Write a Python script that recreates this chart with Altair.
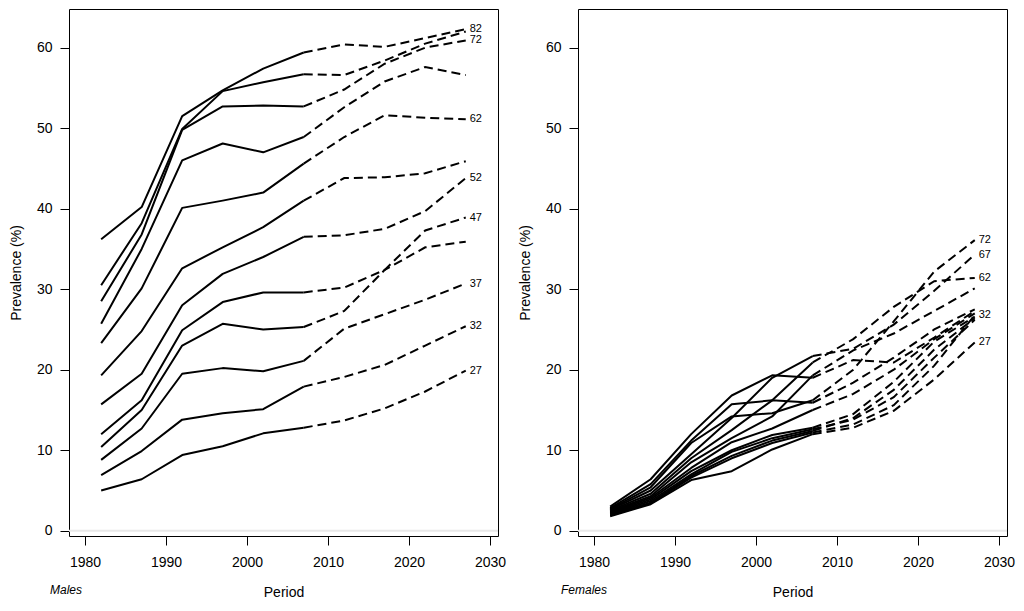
import altair as alt
import pandas as pd

years = [1982, 1987, 1992, 1997, 2002, 2007, 2012, 2017, 2022, 2027]
ages = [27, 32, 37, 42, 47, 52, 57, 62, 67, 72, 77, 82]

# Males, prevalence (%) by age group over period (observed to 2007, projected after)
m27 = [5.0, 6.4, 9.4, 10.5, 12.1, 12.8, 13.7, 15.2, 17.3, 19.9]
m32 = [6.9, 9.9, 13.8, 14.6, 15.1, 17.9, 19.1, 20.6, 23.0, 25.4]
m37 = [8.8, 12.7, 19.5, 20.2, 19.8, 21.1, 25.1, 26.9, 28.7, 30.7]
m42 = [10.4, 15.0, 23.0, 25.7, 25.0, 25.3, 27.3, 32.4, 35.2, 35.9]
m47 = [12.0, 16.2, 24.9, 28.4, 29.6, 29.6, 30.2, 32.4, 37.3, 38.9]
m52 = [15.7, 19.5, 28.0, 31.9, 34.0, 36.5, 36.7, 37.5, 39.7, 43.8]
m57 = [19.3, 24.8, 32.6, 35.2, 37.7, 41.0, 43.8, 43.9, 44.4, 45.9]
m62 = [23.3, 30.1, 40.1, 41.0, 42.0, 45.6, 48.9, 51.6, 51.3, 51.1]
m67 = [25.7, 35.0, 46.0, 48.1, 47.0, 48.9, 52.6, 55.8, 57.6, 56.6]
m72 = [28.5, 36.8, 49.8, 52.7, 52.8, 52.7, 54.8, 58.0, 60.0, 60.9]
m77 = [30.5, 38.2, 49.9, 54.6, 55.7, 56.7, 56.6, 58.4, 60.5, 62.0]
m82 = [36.2, 40.2, 51.5, 54.7, 57.4, 59.4, 60.4, 60.1, 61.2, 62.3]
males = [m27, m32, m37, m42, m47, m52, m57, m62, m67, m72, m77, m82]
male_labels = [82, 72, 62, 52, 47, 37, 32, 27]

# Females
f27 = [1.8, 3.3, 6.3, 7.4, 10.1, 12.0, 12.8, 14.9, 18.8, 23.4]
f32 = [1.9, 3.4, 6.6, 9.0, 10.9, 12.2, 13.2, 15.6, 20.5, 26.8]
f37 = [2.0, 3.5, 6.8, 9.3, 11.2, 12.4, 14.0, 17.5, 22.5, 26.4]
f42 = [2.1, 3.7, 7.0, 9.8, 11.5, 12.6, 13.8, 16.6, 21.5, 26.2]
f47 = [2.2, 3.9, 7.4, 10.0, 11.9, 12.8, 14.5, 18.5, 23.5, 26.6]
f52 = [2.3, 4.1, 7.8, 11.0, 12.7, 15.0, 17.0, 20.0, 23.8, 27.0]
f57 = [2.4, 4.3, 8.5, 11.5, 14.2, 19.3, 22.4, 24.5, 27.3, 30.1]
f62 = [2.5, 4.6, 9.0, 12.5, 16.2, 20.9, 23.8, 27.8, 31.0, 31.4]
f67 = [2.6, 5.0, 9.5, 14.0, 19.0, 21.7, 22.6, 25.6, 29.8, 34.3]
f72 = [2.7, 5.4, 10.9, 14.2, 14.6, 16.2, 20.0, 26.0, 32.2, 36.1]
f77 = [2.8, 5.8, 11.2, 15.7, 16.2, 15.9, 18.4, 21.5, 25.0, 27.5]
f82 = [3.0, 6.4, 12.0, 16.8, 19.3, 19.0, 21.2, 20.9, 24.0, 27.3]
females = [f27, f32, f37, f42, f47, f52, f57, f62, f67, f72, f77, f82]
female_labels = [72, 67, 62, 32, 27]

LAST_OBS = 2007


def long_df(series_list):
    rows = []
    for age, vals in zip(ages, series_list):
        for yr, v in zip(years, vals):
            if yr <= LAST_OBS:
                rows.append({"age": age, "year": yr, "value": v, "kind": "obs"})
            if yr >= LAST_OBS:
                rows.append({"age": age, "year": yr, "value": v, "kind": "proj"})
    return pd.DataFrame(rows)


def label_df(series_list, labels):
    rows = []
    for lab in labels:
        vals = series_list[ages.index(lab)]
        rows.append({"year": years[-1], "value": vals[-1], "label": str(lab)})
    return pd.DataFrame(rows)


FONT = "Liberation Sans"

xenc = alt.X(
    "year:Q",
    scale=alt.Scale(domain=[1978.03, 2030.98], nice=False, zero=False),
    axis=alt.Axis(values=[1980, 1990, 2000, 2010, 2020, 2030], format="d",
                  title="Period", labelPadding=10, titlePadding=16, grid=False),
)
yenc = alt.Y(
    "value:Q",
    scale=alt.Scale(domain=[-0.65, 64.8], nice=False, zero=False),
    axis=alt.Axis(values=[0, 10, 20, 30, 40, 50, 60], format="d", grid=False,
                  title="Prevalence (%)", labelPadding=8, titlePadding=13, labelAngle=0),
)


def panel(series_list, labels, name, dx):
    df = long_df(series_list)
    ldf = label_df(series_list, labels)
    zero = alt.Chart(pd.DataFrame({"value": [0.0]})).mark_rule(
        color="#e8e8e8", strokeWidth=2).encode(y=yenc)
    obs = alt.Chart(df).transform_filter("datum.kind == 'obs'").mark_line(
        color="black", strokeWidth=2, strokeJoin="round").encode(
        x=xenc, y=yenc, detail="age:N", order="year:Q")
    proj = alt.Chart(df).transform_filter("datum.kind == 'proj'").mark_line(
        color="black", strokeWidth=2, strokeDash=[9, 5]).encode(
        x=xenc, y=yenc, detail="age:N", order="year:Q")
    text = alt.Chart(ldf).mark_text(
        align="left", baseline="middle", dx=4, fontSize=11, font=FONT, color="black").encode(
        x=xenc, y=yenc, text="label:N")
    return alt.layer(zero, obs, proj, text).properties(
        width=429, height=527,
        title=alt.TitleParams(name, orient="bottom", anchor="start", frame="group",
                              dx=dx, dy=-18, fontSize=12, fontStyle="italic",
                              fontWeight="normal", font=FONT, color="black"),
    )


left = panel(males, male_labels, "Males", -19)
right = panel(females, female_labels, "Females", -17)

chart = alt.hconcat(left, right, spacing=10).properties(
    padding=0,
    background="white",
).configure_view(stroke="black", strokeWidth=1).configure_axis(
    domain=False, grid=False, tickColor="black", tickSize=9, tickWidth=1,
    labelFont=FONT, labelFontSize=14, labelColor="black",
    titleFont=FONT, titleFontSize=14, titleFontWeight="normal", titleColor="black",
)

chart.save("out.html", embed_options={"renderer": "svg", "actions": False})
